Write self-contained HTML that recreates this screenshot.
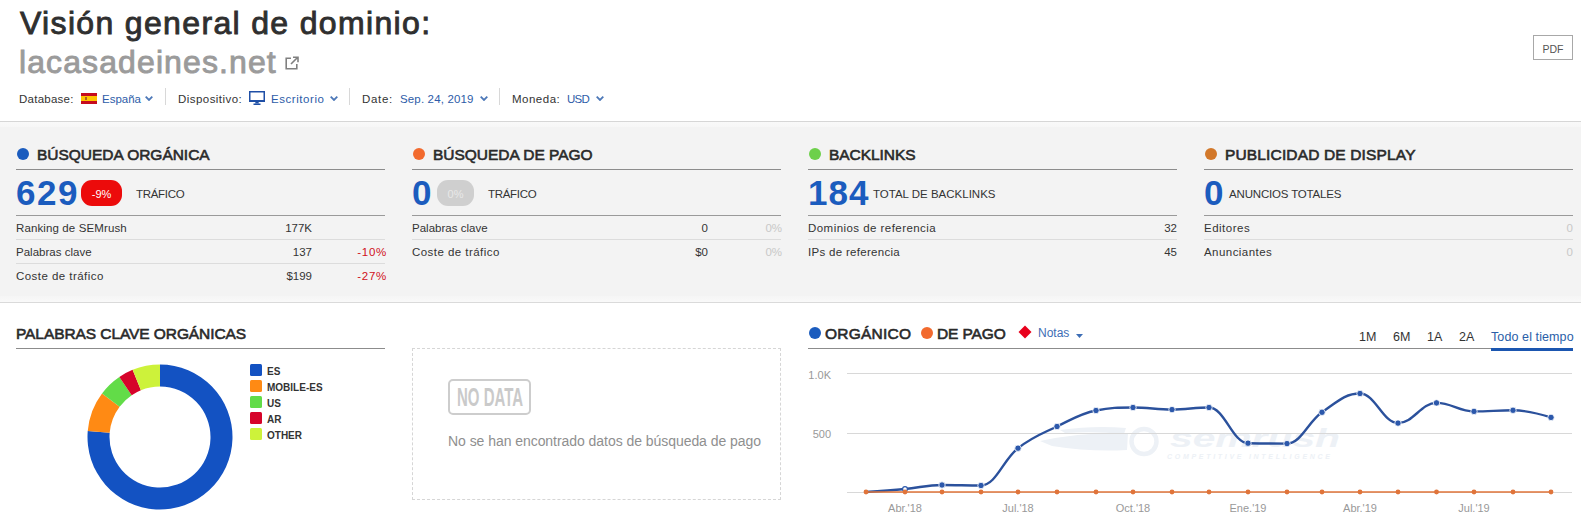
<!DOCTYPE html>
<html><head><meta charset="utf-8">
<style>
*{margin:0;padding:0;box-sizing:border-box}
html,body{width:1581px;height:532px;overflow:hidden;background:#fff;font-family:"Liberation Sans",sans-serif;color:#333}
.a{position:absolute;white-space:nowrap}
#title{left:20px;top:4px;font-size:32px;font-weight:normal;color:#2f2f2f;line-height:38px;letter-spacing:1.34px;-webkit-text-stroke:0.9px #2f2f2f}
#dom{left:19px;top:43px;font-size:32px;font-weight:normal;color:#9b9b9b;line-height:38px;letter-spacing:1.1px;-webkit-text-stroke:0.9px #9b9b9b}
.fb{top:92px;font-size:11.5px;line-height:14px;color:#333}
.blue{color:#2d5ca8}
.sep{position:absolute;top:88px;width:1px;height:17px;background:#d8d8d8}
.chev{position:absolute;top:96px;width:8px;height:5px}
#gray{position:absolute;left:0;top:121px;width:1581px;height:182px;background:#f3f3f3;border-top:1px solid #d6d6d6;border-bottom:1px solid #dadada}
.dot{position:absolute;width:12px;height:12px;border-radius:50%}
.ch{position:absolute;font-size:15.5px;font-weight:normal;color:#2a2a2a;line-height:18px;letter-spacing:0.6px;-webkit-text-stroke:0.6px #2a2a2a}
.hl{position:absolute;width:369px;height:1px;background:#8c8c8c}
.big{position:absolute;font-size:35px;font-weight:bold;color:#1b5cbe;line-height:40px;letter-spacing:1.5px}
.lbl{position:absolute;font-size:11.5px;color:#333;line-height:14px;letter-spacing:-0.3px}
.badge{position:absolute;top:180px;height:26px;border-radius:11px;color:#fff;font-size:11px;line-height:29px;text-align:center}
.rl{position:absolute;width:369px;height:1px;background:#dcdcdc}
.rt{position:absolute;font-size:11.5px;color:#333;line-height:14px;letter-spacing:0.45px}
.rv{position:absolute;font-size:11.5px;color:#333;line-height:14px;text-align:right;width:100px}
.red{color:#d0111b;letter-spacing:0.7px}
.lg{color:#c8c8c8}
.leg{position:absolute;width:12px;height:12px;border-radius:1.5px}
.legt{position:absolute;left:267px;font-size:10px;font-weight:bold;color:#333;line-height:12px;margin-top:1px}
.tr{position:absolute;top:330px;font-size:12.5px;color:#333;line-height:14px}
.xl{position:absolute;top:502px;font-size:11px;color:#999;line-height:12px;text-align:center;width:60px}
.yl{position:absolute;font-size:11px;color:#999;line-height:12px;text-align:right;width:40px;left:791px}
.grid{position:absolute;left:847px;width:725px;height:1px;background:#d8d8d8}
</style></head><body>
<div class="a" id="title">Visión general de dominio:</div>
<div class="a" id="dom">lacasadeines.net</div>
<svg class="a" style="left:285px;top:56px" width="14" height="14" viewBox="0 0 14 14"><path d="M6 2.2H1.2v10.6H11.8V8" fill="none" stroke="#808080" stroke-width="1.6"/><path d="M6 8L12.5 1.5M8 1.2h5v5" fill="none" stroke="#808080" stroke-width="1.6"/></svg>

<div class="a" style="left:1533px;top:35px;width:40px;height:25px;border:1px solid #a8a8a8;font-size:10.5px;color:#555;text-align:center;line-height:27px">PDF</div>

<div class="a fb" style="left:19px;letter-spacing:0.25px">Database:</div>
<svg class="a" style="left:81px;top:93px" width="16" height="11"><rect width="16" height="11" fill="#c60b1e"/><rect y="3" width="16" height="5" fill="#ffc400"/><rect x="4" y="4" width="2" height="3" fill="#b06020"/></svg>
<div class="a fb blue" style="left:102px">España</div>
<svg class="chev" style="left:145px" viewBox="0 0 8 5"><path d="M0.7 0.7L4 4L7.3 0.7" fill="none" stroke="#4d78b8" stroke-width="1.8"/></svg>
<div class="sep" style="left:165px"></div>
<div class="a fb" style="left:178px;letter-spacing:0.45px">Dispositivo:</div>
<svg class="a" style="left:249px;top:91px" width="16" height="14" viewBox="0 0 16 14"><path d="M0.75 0.75H15.25V9.75H0.75Z" fill="none" stroke="#1f4fa6" stroke-width="1.5"/><rect x="0" y="9" width="16" height="2" fill="#1f4fa6"/><path d="M6.5 11H9.5L10 12.5H6Z" fill="#1f4fa6"/><rect x="4.5" y="12.5" width="7" height="1.5" fill="#1f4fa6"/></svg>
<div class="a fb blue" style="left:271px;letter-spacing:0.55px">Escritorio</div>
<svg class="chev" style="left:330px" viewBox="0 0 8 5"><path d="M0.7 0.7L4 4L7.3 0.7" fill="none" stroke="#4d78b8" stroke-width="1.8"/></svg>
<div class="sep" style="left:349px"></div>
<div class="a fb" style="left:362px;letter-spacing:0.7px">Date:</div>
<div class="a fb blue" style="left:400px;letter-spacing:0.15px">Sep. 24, 2019</div>
<svg class="chev" style="left:480px" viewBox="0 0 8 5"><path d="M0.7 0.7L4 4L7.3 0.7" fill="none" stroke="#4d78b8" stroke-width="1.8"/></svg>
<div class="sep" style="left:499px"></div>
<div class="a fb" style="left:512px;letter-spacing:0.5px">Moneda:</div>
<div class="a fb blue" style="left:567px;letter-spacing:-0.7px">USD</div>
<svg class="chev" style="left:596px" viewBox="0 0 8 5"><path d="M0.7 0.7L4 4L7.3 0.7" fill="none" stroke="#4d78b8" stroke-width="1.8"/></svg>

<div id="gray"><div style="position:absolute;left:0;top:0;width:1581px;height:5px;background:linear-gradient(#f9f9f9,#f6f6f6)"></div><div style="position:absolute;left:0;bottom:0;width:1581px;height:6px;background:linear-gradient(#f5f5f5,#f9f9f9)"></div></div>

<!-- card 1 -->
<div class="dot" style="left:17px;top:148px;background:#1b5cbe"></div>
<div class="a ch" style="left:37px;top:146px;letter-spacing:-0.03px">BÚSQUEDA ORGÁNICA</div>
<div class="hl" style="left:16px;top:169px"></div>
<div class="a big" style="left:16px;top:173px">629</div>
<div class="badge" style="left:81px;width:41px;background:#ec0b0b">-9%</div>
<div class="a lbl" style="left:136px;top:187px">TRÁFICO</div>
<div class="hl" style="left:16px;top:215px;background:#9a9a9a"></div>
<div class="a rt" style="left:16px;top:221px;letter-spacing:0.12px">Ranking de SEMrush</div>
<div class="a rv" style="left:212px;top:221px">177K</div>
<div class="rl" style="left:16px;top:239px"></div>
<div class="a rt" style="left:16px;top:245px;letter-spacing:0.02px">Palabras clave</div>
<div class="a rv" style="left:212px;top:245px">137</div>
<div class="a rv red" style="left:287px;top:245px">-10%</div>
<div class="rl" style="left:16px;top:263px"></div>
<div class="a rt" style="left:16px;top:269px">Coste de tráfico</div>
<div class="a rv" style="left:212px;top:269px">$199</div>
<div class="a rv red" style="left:287px;top:269px">-27%</div>

<!-- card 2 -->
<div class="dot" style="left:413px;top:148px;background:#f26a2e"></div>
<div class="a ch" style="left:433px;top:146px;letter-spacing:-0.02px">BÚSQUEDA DE PAGO</div>
<div class="hl" style="left:412px;top:169px"></div>
<div class="a big" style="left:412px;top:173px">0</div>
<div class="badge" style="left:437px;width:37px;background:#cfcfcf;color:#e8e8e8">0%</div>
<div class="a lbl" style="left:488px;top:187px">TRÁFICO</div>
<div class="hl" style="left:412px;top:215px;background:#9a9a9a"></div>
<div class="a rt" style="left:412px;top:221px;letter-spacing:0.02px">Palabras clave</div>
<div class="a rv" style="left:608px;top:221px">0</div>
<div class="a rv lg" style="left:682px;top:221px">0%</div>
<div class="rl" style="left:412px;top:239px"></div>
<div class="a rt" style="left:412px;top:245px">Coste de tráfico</div>
<div class="a rv" style="left:608px;top:245px">$0</div>
<div class="a rv lg" style="left:682px;top:245px">0%</div>

<!-- card 3 -->
<div class="dot" style="left:809px;top:148px;background:#6dd04a"></div>
<div class="a ch" style="left:829px;top:146px;letter-spacing:-0.05px">BACKLINKS</div>
<div class="hl" style="left:808px;top:169px"></div>
<div class="a big" style="left:808px;top:173px;letter-spacing:1px">184</div>
<div class="a lbl" style="left:873px;top:187px;letter-spacing:0px">TOTAL DE BACKLINKS</div>
<div class="hl" style="left:808px;top:215px;background:#9a9a9a"></div>
<div class="a rt" style="left:808px;top:221px">Dominios de referencia</div>
<div class="a rv" style="left:1077px;top:221px">32</div>
<div class="rl" style="left:808px;top:239px"></div>
<div class="a rt" style="left:808px;top:245px;letter-spacing:0.3px">IPs de referencia</div>
<div class="a rv" style="left:1077px;top:245px">45</div>

<!-- card 4 -->
<div class="dot" style="left:1205px;top:148px;background:#d2782a"></div>
<div class="a ch" style="left:1225px;top:146px;letter-spacing:0.15px">PUBLICIDAD DE DISPLAY</div>
<div class="hl" style="left:1204px;top:169px"></div>
<div class="a big" style="left:1204px;top:173px">0</div>
<div class="a lbl" style="left:1229px;top:187px;letter-spacing:-0.17px">ANUNCIOS TOTALES</div>
<div class="hl" style="left:1204px;top:215px;background:#9a9a9a"></div>
<div class="a rt" style="left:1204px;top:221px;letter-spacing:0.5px">Editores</div>
<div class="a rv lg" style="left:1473px;top:221px">0</div>
<div class="rl" style="left:1204px;top:239px"></div>
<div class="a rt" style="left:1204px;top:245px">Anunciantes</div>
<div class="a rv lg" style="left:1473px;top:245px">0</div>

<!-- bottom left -->
<div class="a ch" style="left:16px;top:325px;letter-spacing:-0.08px">PALABRAS CLAVE ORGÁNICAS</div>
<div class="hl" style="left:16px;top:348px"></div>
<svg class="a" style="left:87px;top:364px" width="146" height="146" viewBox="-73 -73 146 146" id="donut"><path d="M0.00 -72.50A72.5 72.5 0 1 1 -72.26 -5.94L-50.33 -4.14A50.5 50.5 0 1 0 0.00 -50.50Z" fill="#1352c2"/><path d="M-72.26 -5.94A72.5 72.5 0 0 1 -57.98 -43.53L-40.38 -30.32A50.5 50.5 0 0 0 -50.33 -4.14Z" fill="#ff8a14"/><path d="M-57.98 -43.53A72.5 72.5 0 0 1 -40.65 -60.03L-28.31 -41.82A50.5 50.5 0 0 0 -40.38 -30.32Z" fill="#62dc48"/><path d="M-40.65 -60.03A72.5 72.5 0 0 1 -27.39 -67.13L-19.08 -46.76A50.5 50.5 0 0 0 -28.31 -41.82Z" fill="#d6042a"/><path d="M-27.39 -67.13A72.5 72.5 0 0 1 -0.00 -72.50L-0.00 -50.50A50.5 50.5 0 0 0 -19.08 -46.76Z" fill="#cdf23a"/></svg>
<div class="leg" style="left:250px;top:364px;background:#1352c2"></div><div class="legt" style="top:365px">ES</div>
<div class="leg" style="left:250px;top:380px;background:#ff8a14"></div><div class="legt" style="top:381px">MOBILE-ES</div>
<div class="leg" style="left:250px;top:396px;background:#62dc48"></div><div class="legt" style="top:397px">US</div>
<div class="leg" style="left:250px;top:412px;background:#d6042a"></div><div class="legt" style="top:413px">AR</div>
<div class="leg" style="left:250px;top:428px;background:#cdf23a"></div><div class="legt" style="top:429px">OTHER</div>

<!-- no data -->
<div class="a" style="left:412px;top:348px;width:369px;height:152px;border:1px dashed #d6d6d6"></div>
<div class="a" style="left:448px;top:379px;width:83px;height:36px;border:2px solid #cdcdcd;border-radius:5px"></div>
<div class="a" style="left:457px;top:385px;font-size:25px;font-weight:bold;color:#cacaca;line-height:24px;transform:scaleX(0.6);transform-origin:0 0">NO DATA</div>
<div class="a" style="left:448px;top:433px;font-size:14px;color:#8f8f8f;line-height:16px;letter-spacing:-0.05px">No se han encontrado datos de búsqueda de pago</div>

<!-- chart header -->
<div class="dot" style="left:809px;top:327px;background:#1b5cbe"></div>
<div class="a ch" style="left:825px;top:325px;letter-spacing:0.24px">ORGÁNICO</div>
<div class="dot" style="left:921px;top:327px;background:#f26a2e"></div>
<div class="a ch" style="left:937px;top:325px;letter-spacing:-0.13px">DE PAGO</div>
<svg class="a" style="left:1018px;top:325px" width="14" height="14"><path d="M7 0.5L13.5 7L7 13.5L0.5 7Z" fill="#e8001c"/></svg>
<div class="a" style="left:1038px;top:326px;font-size:12px;color:#3d6db5;line-height:14px">Notas</div>
<svg class="a" style="left:1076px;top:334px" width="7" height="4"><path d="M0 0H7L3.5 4Z" fill="#3d6db5"/></svg>
<div class="a tr" style="left:1359px">1M</div>
<div class="a tr" style="left:1393px">6M</div>
<div class="a tr" style="left:1427px">1A</div>
<div class="a tr" style="left:1459px">2A</div>
<div class="a tr" style="left:1491px;color:#2a5ea8;letter-spacing:0.1px">Todo el tiempo</div>
<div class="a" style="left:808px;top:348px;width:765px;height:1px;background:#8c8c8c"></div>
<div class="a" style="left:1491px;top:348px;width:82px;height:3px;background:#1b56b0"></div>

<!-- chart -->
<svg class="a" style="left:0;top:0" width="1581" height="532" id="wm"><text x="1170" y="447" font-family="Liberation Sans" font-weight="bold" font-style="italic" font-size="25" fill="#edf1f6" textLength="170" lengthAdjust="spacingAndGlyphs" transform="translate(0,0)">semrush</text><text x="1167" y="459" font-family="Liberation Sans" font-weight="bold" font-style="italic" font-size="7" fill="#edf1f6" textLength="163" lengthAdjust="spacing">COMPETITIVE INTELLIGENCE</text><circle cx="1144" cy="441.5" r="12.5" fill="none" stroke="#edf1f6" stroke-width="4.5"/><path d="M1040 441 Q1080 432 1128 433 L1127 450 Q1090 452 1052 446 Z" fill="#edf1f6"/><path d="M1060 430 Q1095 425 1126 428 L1124 434 Q1095 431 1065 433 Z" fill="#edf1f6"/></svg>
<div class="grid" style="top:373px"></div>
<div class="grid" style="top:433px"></div>
<div class="grid" style="top:492px"></div>
<div class="yl" style="top:369px">1.0K</div>
<div class="yl" style="top:428px">500</div>
<div class="xl" style="left:875px">Abr.'18</div>
<div class="xl" style="left:988px">Jul.'18</div>
<div class="xl" style="left:1103px">Oct.'18</div>
<div class="xl" style="left:1218px">Ene.'19</div>
<div class="xl" style="left:1330px">Abr.'19</div>
<div class="xl" style="left:1444px">Jul.'19</div>
<svg class="a" style="left:0;top:0" width="1581" height="532" id="chart"><path d="M866 492C866.00 492.00 889.40 490.44 905 489C919.80 487.64 927.20 485.00 942 485C957.60 485.00 965.40 485.50 981 485.5C995.80 485.50 1003.20 459.69 1018 448.2C1033.60 436.09 1041.40 434.04 1057 426.5C1072.60 418.96 1080.40 413.50 1096 410.5C1110.80 407.50 1118.20 407.50 1133 407.5C1148.60 407.50 1156.40 409.60 1172 409.6C1186.80 409.60 1194.20 407.50 1209 407.5C1224.60 407.50 1232.40 442.80 1248 443.2C1263.60 443.60 1271.40 443.60 1287 443.6C1301.00 443.60 1308.00 421.91 1322 412.3C1337.20 401.87 1344.80 393.50 1360 393.5C1375.20 393.50 1382.80 423.10 1398 423.1C1413.40 423.10 1421.10 402.90 1436.5 402.9C1451.50 402.90 1459.00 411.40 1474 411.4C1489.60 411.40 1497.40 410.30 1513 410.3C1528.20 410.30 1551.00 417.40 1551 417.4" fill="none" stroke="#2b519c" stroke-width="2.4"/><circle cx="905" cy="489" r="2.4" fill="#fff" stroke="#2c58ab" stroke-width="1.2"/><circle cx="942" cy="485" r="3.2" fill="#2c58ab" stroke="#fff" stroke-width="0.8"/><circle cx="981" cy="485.5" r="3.2" fill="#2c58ab" stroke="#fff" stroke-width="0.8"/><circle cx="1018" cy="448.2" r="3.2" fill="#2c58ab" stroke="#fff" stroke-width="0.8"/><circle cx="1057" cy="426.5" r="3.2" fill="#2c58ab" stroke="#fff" stroke-width="0.8"/><circle cx="1096" cy="410.5" r="3.2" fill="#2c58ab" stroke="#fff" stroke-width="0.8"/><circle cx="1133" cy="407.5" r="3.2" fill="#2c58ab" stroke="#fff" stroke-width="0.8"/><circle cx="1172" cy="409.6" r="3.2" fill="#2c58ab" stroke="#fff" stroke-width="0.8"/><circle cx="1209" cy="407.5" r="3.2" fill="#2c58ab" stroke="#fff" stroke-width="0.8"/><circle cx="1248" cy="443.2" r="3.2" fill="#2c58ab" stroke="#fff" stroke-width="0.8"/><circle cx="1287" cy="443.6" r="3.2" fill="#2c58ab" stroke="#fff" stroke-width="0.8"/><circle cx="1322" cy="412.3" r="3.2" fill="#2c58ab" stroke="#fff" stroke-width="0.8"/><circle cx="1360" cy="393.5" r="3.2" fill="#2c58ab" stroke="#fff" stroke-width="0.8"/><circle cx="1398" cy="423.1" r="3.2" fill="#2c58ab" stroke="#fff" stroke-width="0.8"/><circle cx="1436.5" cy="402.9" r="3.2" fill="#2c58ab" stroke="#fff" stroke-width="0.8"/><circle cx="1474" cy="411.4" r="3.2" fill="#2c58ab" stroke="#fff" stroke-width="0.8"/><circle cx="1513" cy="410.3" r="3.2" fill="#2c58ab" stroke="#fff" stroke-width="0.8"/><circle cx="1551" cy="417.4" r="3.2" fill="#2c58ab" stroke="#fff" stroke-width="0.8"/><path d="M866 492C866.00 492.00 889.40 492.00 905 492C919.80 492.00 927.20 492.00 942 492C957.60 492.00 965.40 492.00 981 492C995.80 492.00 1003.20 492.00 1018 492C1033.60 492.00 1041.40 492.00 1057 492C1072.60 492.00 1080.40 492.00 1096 492C1110.80 492.00 1118.20 492.00 1133 492C1148.60 492.00 1156.40 492.00 1172 492C1186.80 492.00 1194.20 492.00 1209 492C1224.60 492.00 1232.40 492.00 1248 492C1263.60 492.00 1271.40 492.00 1287 492C1301.00 492.00 1308.00 492.00 1322 492C1337.20 492.00 1344.80 492.00 1360 492C1375.20 492.00 1382.80 492.00 1398 492C1413.40 492.00 1421.10 492.00 1436.5 492C1451.50 492.00 1459.00 492.00 1474 492C1489.60 492.00 1497.40 492.00 1513 492C1528.20 492.00 1551.00 492.00 1551 492" fill="none" stroke="#e0743a" stroke-width="1.7"/><circle cx="866" cy="492" r="2.4" fill="#e0743a"/><circle cx="905" cy="492" r="2.4" fill="#e0743a"/><circle cx="942" cy="492" r="2.4" fill="#e0743a"/><circle cx="981" cy="492" r="2.4" fill="#e0743a"/><circle cx="1018" cy="492" r="2.4" fill="#e0743a"/><circle cx="1057" cy="492" r="2.4" fill="#e0743a"/><circle cx="1096" cy="492" r="2.4" fill="#e0743a"/><circle cx="1133" cy="492" r="2.4" fill="#e0743a"/><circle cx="1172" cy="492" r="2.4" fill="#e0743a"/><circle cx="1209" cy="492" r="2.4" fill="#e0743a"/><circle cx="1248" cy="492" r="2.4" fill="#e0743a"/><circle cx="1287" cy="492" r="2.4" fill="#e0743a"/><circle cx="1322" cy="492" r="2.4" fill="#e0743a"/><circle cx="1360" cy="492" r="2.4" fill="#e0743a"/><circle cx="1398" cy="492" r="2.4" fill="#e0743a"/><circle cx="1436.5" cy="492" r="2.4" fill="#e0743a"/><circle cx="1474" cy="492" r="2.4" fill="#e0743a"/><circle cx="1513" cy="492" r="2.4" fill="#e0743a"/><circle cx="1551" cy="492" r="2.4" fill="#e0743a"/></svg>

</body></html>
